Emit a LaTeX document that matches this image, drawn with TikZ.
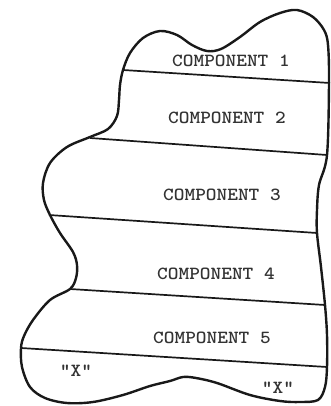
\documentclass[tikz,border=0pt]{standalone}
\usepackage{fontspec}
\begin{document}
\begin{tikzpicture}[x=1pt,y=-1pt,
  outline/.style={line width=2.4pt, line join=round, draw=black!90},
  divider/.style={line width=1.7pt, draw=black!90},
  complabel/.style={font=\ttfamily\bfseries\fontsize{18.5}{18.5}\selectfont, xscale=1.1, inner sep=0pt, text=black!80}]
\useasboundingbox (0,0) rectangle (330,406);
% outline blob
\draw[outline] plot[smooth cycle, tension=0.55] coordinates {
 (123,70) (130,53) (143,38) (160,31) (177,35) (192,45) (207,51) (221,49)
 (240,37) (260,22) (280,13) (297,10) (313,17) (324,30) (328,45) (329,83)
 (327,155) (319,185) (317,210) (317,233) (321,267) (325,305) (327,335)
 (327,367) (325,387) (318,400) (300,402) (280,401) (250,395) (217,383)
 (196,378) (183,377) (170,381) (150,386) (123,395) (93,402) (67,403)
 (45,398) (30,387) (22,367) (21,348) (24,336) (33,320) (50,300) (70,289)
 (76,278) (77,265) (73,252) (60,233) (50,215) (44,200) (43,183) (50,163)
 (67,147) (90,137) (108,129) (117,116) (119,100) (120,85)};
% divider end points
\coordinate (l1) at (123,70);  \coordinate (r1) at (330,83);
\coordinate (l2) at (90,138);  \coordinate (r2) at (327,155);
\coordinate (l3) at (49,215);  \coordinate (r3) at (317,233);
\coordinate (l4) at (70,289);  \coordinate (r4) at (325,305);
\coordinate (l5) at (21,348);  \coordinate (r5) at (327,367);
\draw[divider] (l1) -- (r1);
\draw[divider] (l2) -- (r2);
\draw[divider] (l3) -- (r3);
\draw[divider] (l4) -- (r4);
\draw[divider] (l5) -- (r5);
% labels
\node[complabel] (c1) at (231,61) {COMPONENT 1};
\node[complabel] (c2) at (227,118) {COMPONENT 2};
\node[complabel] (c3) at (222,195) {COMPONENT 3};
\node[complabel] (c4) at (216,274) {COMPONENT 4};
\node[complabel] (c5) at (212,338) {COMPONENT 5};
\node[complabel] (x1) at (76,371) {"X"};
\node[complabel] (x2) at (278,388) {"X"};
\end{tikzpicture}
\end{document}
